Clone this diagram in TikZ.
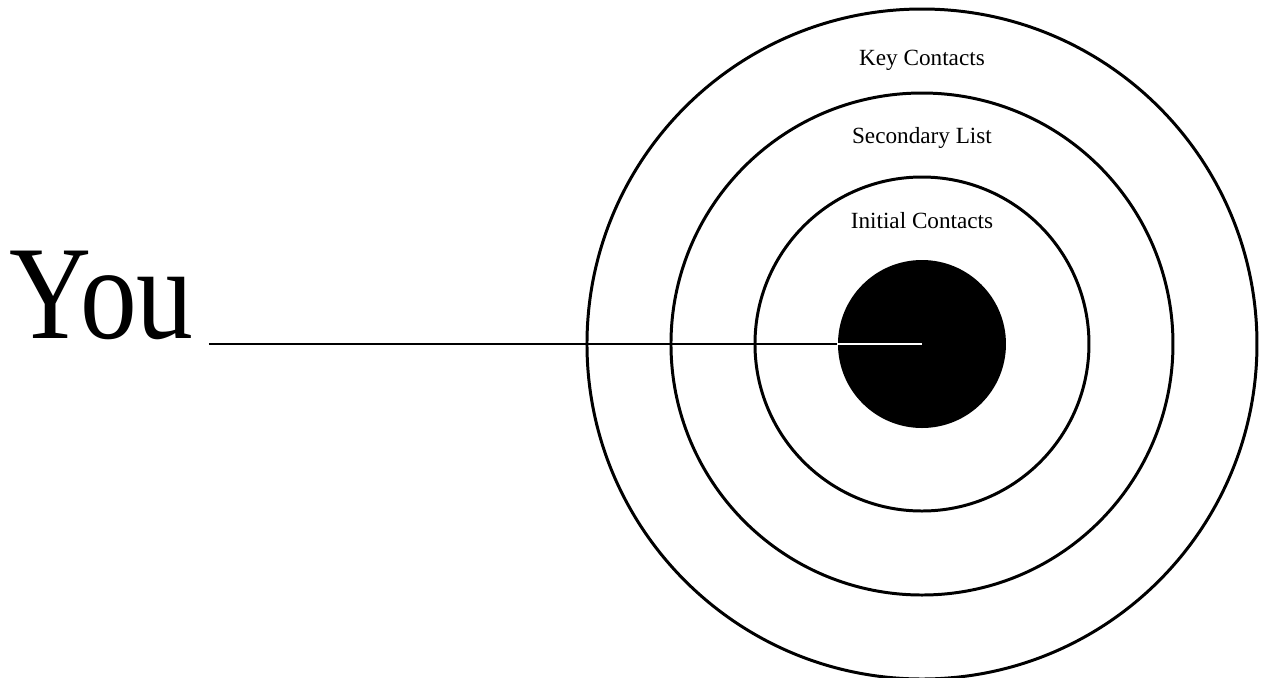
\documentclass[tikz,border=0pt]{standalone}
\usepackage{fontspec}
\setmainfont{Liberation Serif}
\begin{document}
\begin{tikzpicture}[
    ring/.style={draw, line width=0.85pt},
    ringtext/.style={anchor=base, font=\fontsize{6.6}{8}\selectfont},
]
    % Page frame (centre of the target at the origin)
    \useasboundingbox (-9.22, -3.33) rectangle (3.41, 3.44);

    % Rings
    \draw[ring] (0,0) circle (3.35);
    \draw[ring] (0,0) circle (2.51);
    \draw[ring] (0,0) circle (1.67);

    % Ring names
    \node[ringtext] (key) at (0, 2.79) {Key Contacts};
    \node[ringtext] (secondary) at (0, 2.01) {Secondary List};
    \node[ringtext] (initial) at (0, 1.16) {Initial Contacts};

    % Bull's eye
    \node[circle, fill=black, minimum size=1.68cm, inner sep=0pt] (core) at (0,0) {};

    % You
    \node[anchor=base west, inner sep=0pt, xscale=0.85,
          font=\fontsize{38}{40}\selectfont] (you) at (-9.13, 0.06) {You};
    \coordinate (start) at (-7.13, 0);

    % Line to the centre, white inside the disc
    \draw[line width=0.6pt] (start) -- (core.west);
    \draw[white, line width=0.6pt] (core.west) -- (core.center);
\end{tikzpicture}
\end{document}
